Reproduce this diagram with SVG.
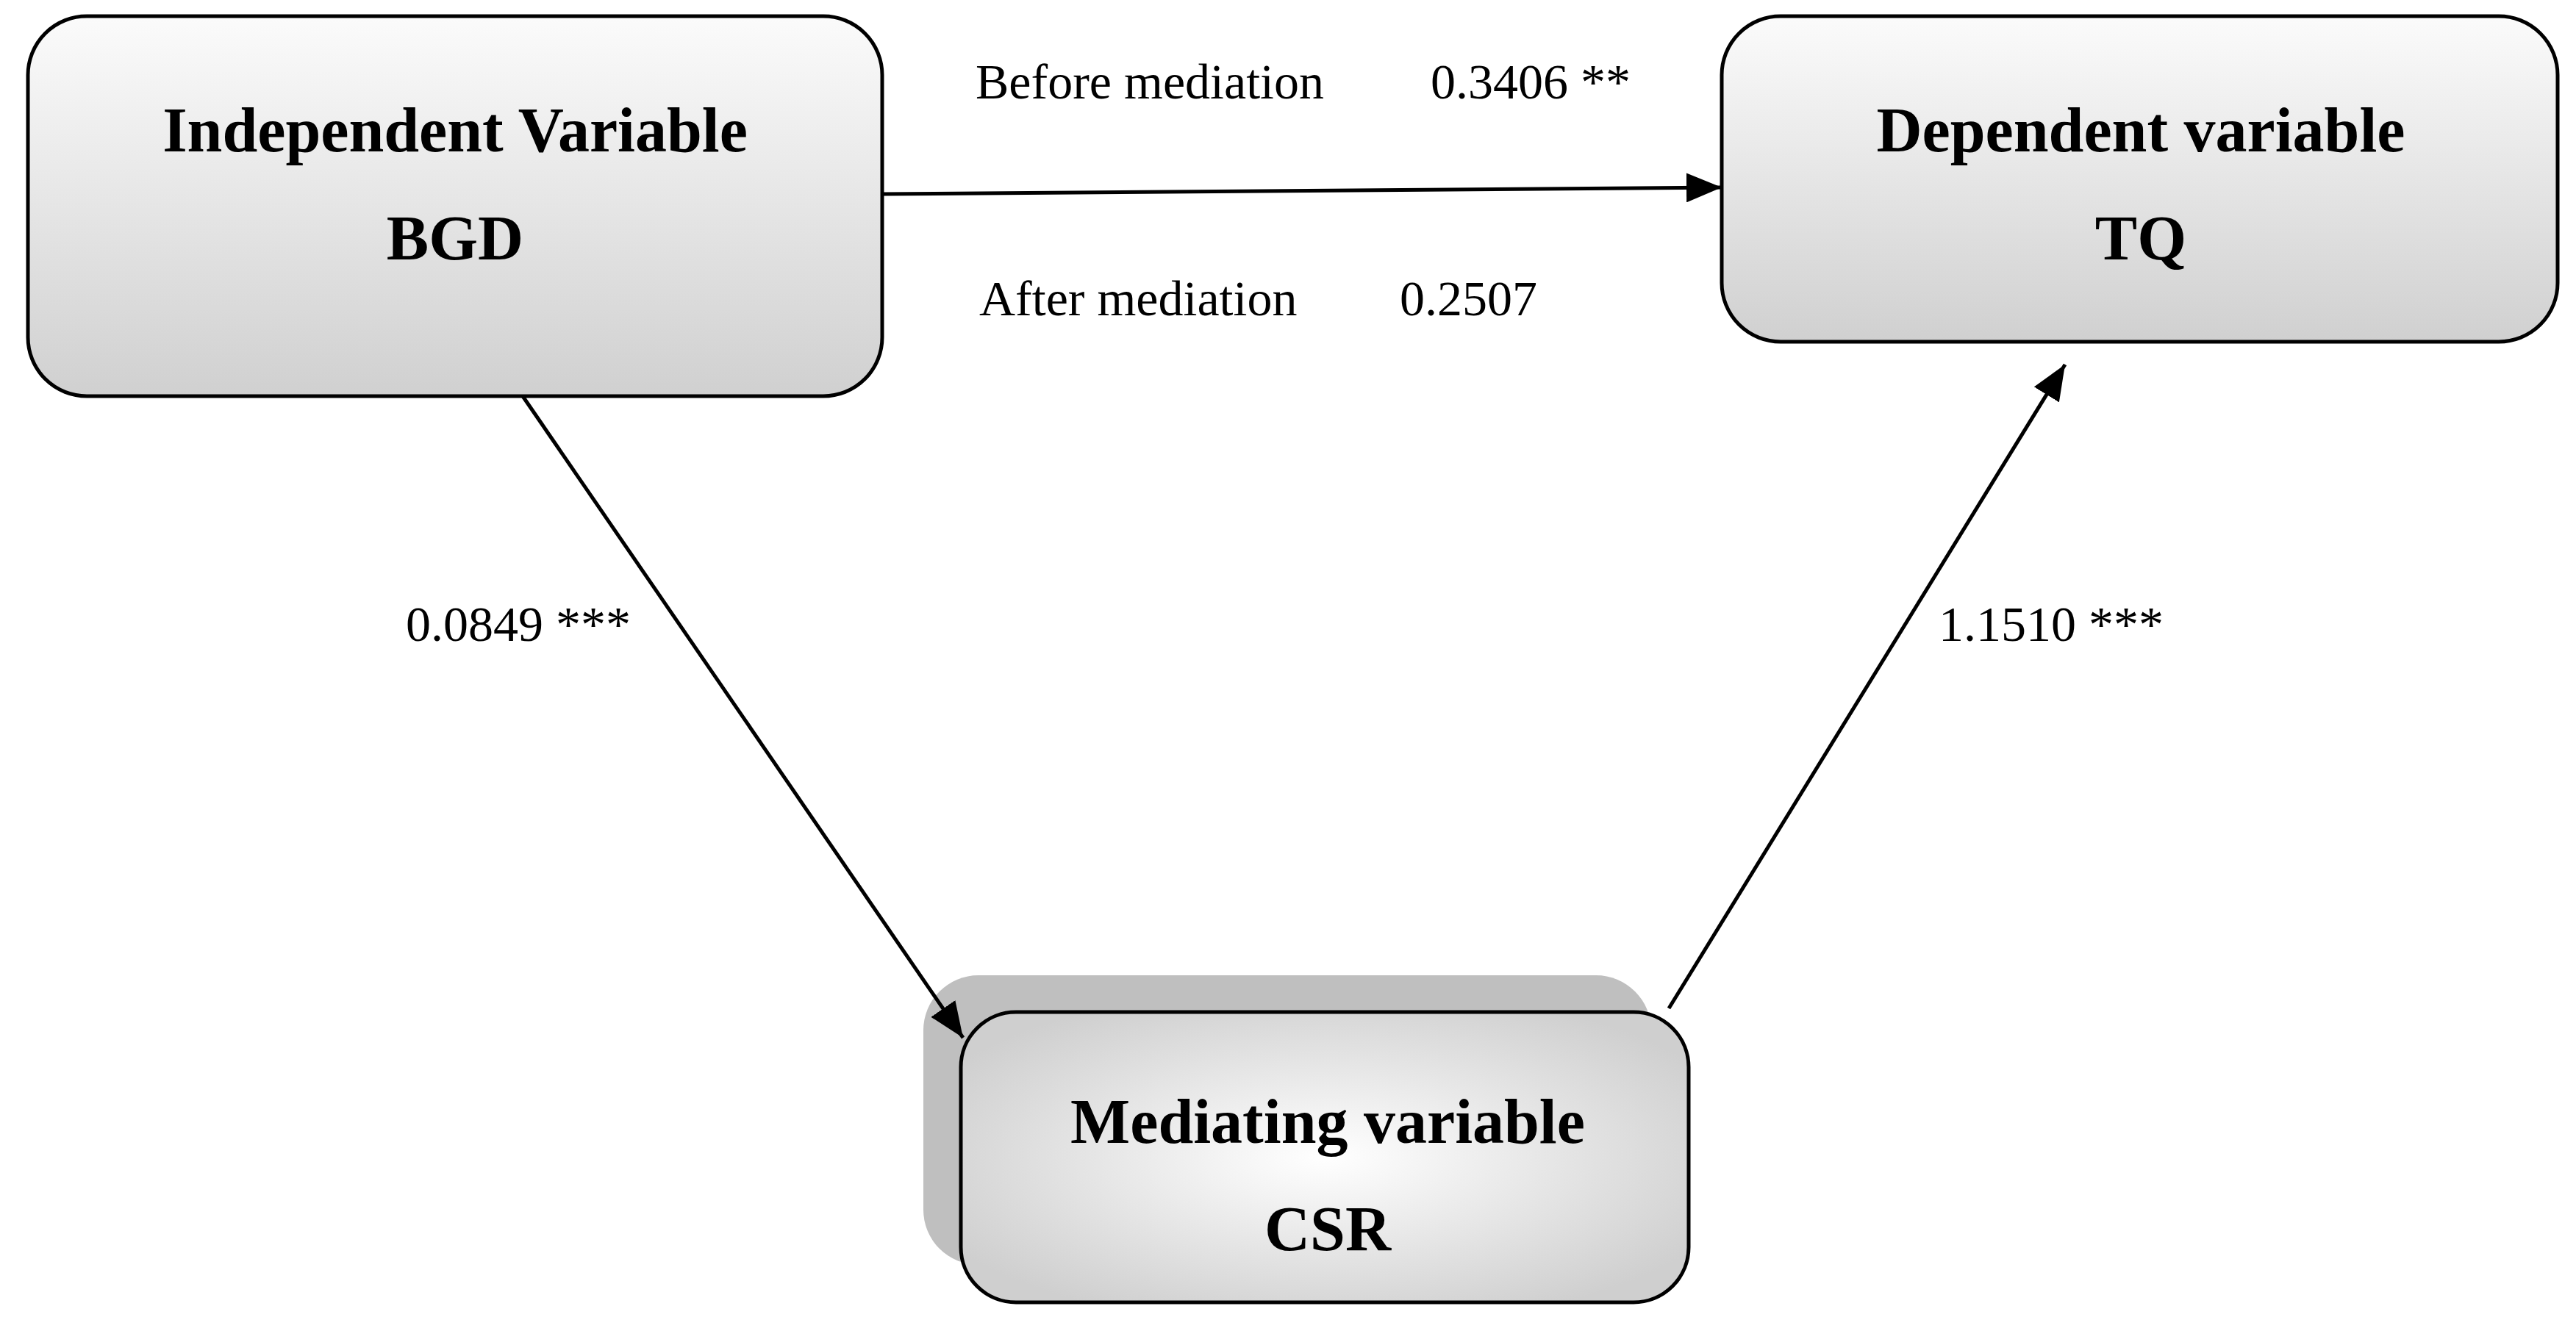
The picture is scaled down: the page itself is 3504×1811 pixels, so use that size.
<svg xmlns="http://www.w3.org/2000/svg" width="3504" height="1811" viewBox="0 0 3504 1811">
<style>
.box{stroke:#000;stroke-width:5}
.t{font-family:"Liberation Serif",serif;font-weight:bold;font-size:86px;text-anchor:middle;fill:#000}
.l{font-family:"Liberation Serif",serif;font-size:68px;fill:#000}
.c{stroke:#000;stroke-width:5;fill:none}
</style>
<defs>
<linearGradient id="g1" x1="0" y1="0" x2="0" y2="1"><stop offset="0" stop-color="#fbfbfb"/><stop offset="1" stop-color="#d0d0d0"/></linearGradient>
<radialGradient id="g2" cx="0.5" cy="0.5" r="0.6"><stop offset="0" stop-color="#ffffff"/><stop offset="1" stop-color="#cfcfcf"/></radialGradient>
<marker id="ah" viewBox="0 0 10 10" refX="10" refY="5" markerWidth="48" markerHeight="40" markerUnits="userSpaceOnUse" orient="auto" preserveAspectRatio="none"><path d="M0,0 L10,5 L0,10 z" fill="#000"/></marker>
</defs>
<rect width="3504" height="1811" fill="#fff"/>
<g id="node-bgd">
<rect class="box" x="38" y="22" width="1162" height="517" rx="80" fill="url(#g1)"/>
<text class="t" x="619" y="206">Independent Variable</text>
<text class="t" x="619" y="353">BGD</text>
</g>
<g id="node-tq">
<rect class="box" x="2342" y="22" width="1137" height="443" rx="80" fill="url(#g1)"/>
<text class="t" x="2912" y="206">Dependent variable</text>
<text class="t" x="2912" y="353">TQ</text>
</g>
<g id="node-csr">
<rect x="1256" y="1327" width="990" height="394" rx="75" fill="#bfbfbf"/>
<rect class="box" x="1307" y="1377" width="990" height="395" rx="75" fill="url(#g2)"/>
<text class="t" x="1806" y="1555">Mediating variable</text>
<text class="t" x="1806" y="1701">CSR</text>
</g>
<g id="connectors">
<line class="c" x1="1202" y1="264" x2="2342" y2="255" marker-end="url(#ah)"/>
<line class="c" x1="711" y1="539" x2="1310" y2="1412" marker-end="url(#ah)"/>
<line class="c" x1="2270" y1="1372" x2="2809" y2="496" marker-end="url(#ah)"/>
</g>
<g id="labels">
<text class="l" x="1327" y="134">Before mediation</text>
<text class="l" x="1946" y="134">0.3406 **</text>
<text class="l" x="1332" y="429">After mediation</text>
<text class="l" x="1904" y="429">0.2507</text>
<text class="l" x="552" y="872">0.0849 ***</text>
<text class="l" x="2637" y="872">1.1510 ***</text>
</g>
</svg>
